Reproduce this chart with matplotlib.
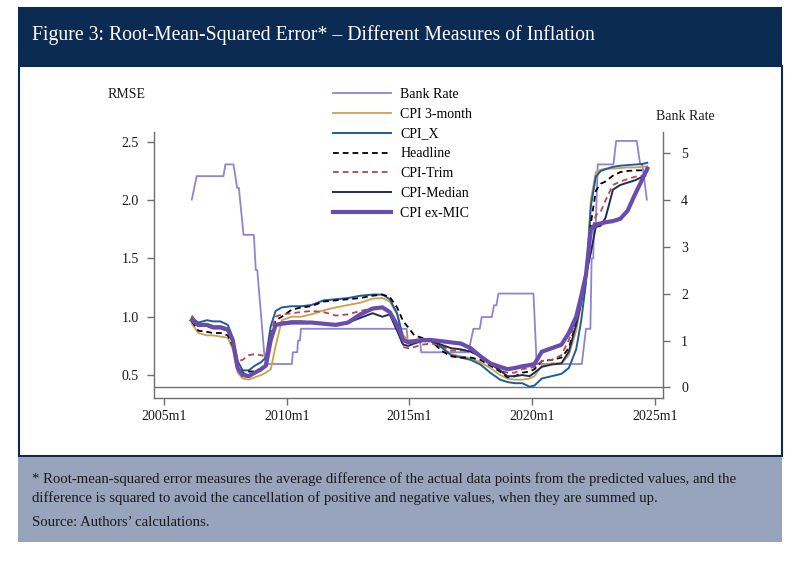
import matplotlib
matplotlib.use('Agg')
import matplotlib.pyplot as plt
from matplotlib.patches import Rectangle

plt.rcParams['font.family'] = ['Liberation Serif', 'DejaVu Serif']

# ---- data ----
dates = [2006.13, 2006.4, 2006.75, 2007.0, 2007.3, 2007.6, 2007.8, 2008.0, 2008.2, 2008.45,
         2008.7, 2008.95, 2009.15, 2009.35, 2009.55, 2009.8, 2010.2, 2010.6, 2011.0, 2011.5,
         2012.0, 2012.5, 2013.0, 2013.5, 2013.9, 2014.2, 2014.5, 2014.75, 2014.95, 2015.2,
         2015.5, 2015.9, 2016.3, 2016.7, 2017.1, 2017.5, 2017.9, 2018.3, 2018.7, 2019.0,
         2019.3, 2019.6, 2019.9, 2020.1, 2020.4, 2020.8, 2021.2, 2021.5, 2021.8, 2022.0,
         2022.2, 2022.4, 2022.6, 2022.8, 2023.0, 2023.3, 2023.6, 2023.9, 2024.2, 2024.5, 2024.7]

cpi_x = [0.99, 0.95, 0.97, 0.96, 0.96, 0.93, 0.82, 0.62, 0.54, 0.54,
         0.58, 0.61, 0.65, 0.92, 1.05, 1.08, 1.09, 1.09, 1.10, 1.14,
         1.15, 1.16, 1.18, 1.19, 1.19, 1.15, 1.03, 0.81, 0.79, 0.79,
         0.80, 0.79, 0.74, 0.67, 0.65, 0.63, 0.59, 0.52, 0.46, 0.44,
         0.43, 0.43, 0.40, 0.41, 0.47, 0.49, 0.51, 0.56, 0.72, 0.96,
         1.29, 1.95, 2.20, 2.25, 2.265, 2.285, 2.295, 2.30, 2.305, 2.31, 2.32]

cpi_3m = [0.94, 0.86, 0.84, 0.84, 0.83, 0.82, 0.72, 0.52, 0.47, 0.46,
          0.48, 0.50, 0.52, 0.55, 0.75, 0.97, 1.00, 1.00, 1.02, 1.055,
          1.08, 1.10, 1.12, 1.155, 1.16, 1.13, 1.02, 0.84, 0.80, 0.80,
          0.81, 0.79, 0.74, 0.68, 0.66, 0.645, 0.61, 0.56, 0.50, 0.47,
          0.46, 0.46, 0.47, 0.49, 0.58, 0.60, 0.60, 0.67, 0.88, 1.10,
          1.35, 2.00, 2.24, 2.26, 2.27, 2.27, 2.275, 2.28, 2.28, 2.285, 2.29]

headline = [0.96, 0.88, 0.87, 0.86, 0.86, 0.84, 0.75, 0.58, 0.52, 0.53,
            0.53, 0.55, 0.60, 0.85, 0.97, 1.00, 1.06, 1.08, 1.09, 1.13,
            1.14, 1.15, 1.16, 1.18, 1.19, 1.17, 1.08, 0.96, 0.91, 0.84,
            0.82, 0.79, 0.71, 0.66, 0.65, 0.65, 0.63, 0.58, 0.53, 0.48,
            0.49, 0.52, 0.53, 0.55, 0.62, 0.63, 0.65, 0.73, 0.95, 1.15,
            1.40, 1.80, 2.08, 2.14, 2.16, 2.21, 2.24, 2.25, 2.255, 2.255, 2.25]

cpi_trim = [1.01, 0.93, 0.93, 0.92, 0.91, 0.90, 0.80, 0.62, 0.63, 0.67,
            0.68, 0.67, 0.66, 0.85, 1.00, 1.02, 1.03, 1.04, 1.05, 1.04,
            1.01, 1.02, 1.05, 1.07, 1.08, 1.05, 0.91, 0.74, 0.73, 0.74,
            0.76, 0.77, 0.75, 0.71, 0.71, 0.71, 0.66, 0.60, 0.54, 0.52,
            0.52, 0.55, 0.56, 0.57, 0.62, 0.63, 0.67, 0.80, 0.98, 1.17,
            1.38, 1.70, 1.87, 1.90, 2.00, 2.13, 2.16, 2.18, 2.20, 2.21, 2.21]

cpi_median = [0.96, 0.92, 0.92, 0.90, 0.90, 0.88, 0.78, 0.56, 0.51, 0.50,
              0.52, 0.54, 0.58, 0.82, 0.93, 0.95, 0.96, 0.96, 0.95, 0.94,
              0.93, 0.95, 0.99, 1.03, 1.00, 1.02, 0.88, 0.76, 0.75, 0.77,
              0.79, 0.79, 0.76, 0.73, 0.72, 0.70, 0.66, 0.60, 0.54, 0.49,
              0.49, 0.50, 0.49, 0.52, 0.57, 0.59, 0.60, 0.70, 0.93, 1.12,
              1.36, 1.55, 1.77, 1.78, 1.85, 2.09, 2.13, 2.15, 2.17, 2.20, 2.25]

cpi_exmic = [0.97, 0.93, 0.93, 0.91, 0.91, 0.89, 0.80, 0.56, 0.50, 0.49,
             0.52, 0.55, 0.58, 0.80, 0.93, 0.94, 0.95, 0.95, 0.95, 0.94,
             0.93, 0.95, 1.02, 1.07, 1.08, 1.04, 0.93, 0.80, 0.78, 0.79,
             0.80, 0.80, 0.79, 0.78, 0.77, 0.73, 0.66, 0.60, 0.57, 0.55,
             0.56, 0.575, 0.585, 0.595, 0.70, 0.73, 0.76, 0.86, 1.00, 1.17,
             1.36, 1.75, 1.79, 1.80, 1.81, 1.82, 1.84, 1.91, 2.05, 2.18, 2.27]

bank_dates = [2006.13, 2006.33, 2007.42, 2007.50, 2007.83, 2007.98, 2008.05, 2008.24,
              2008.66, 2008.74, 2008.80, 2009.00, 2009.08, 2009.15, 2010.21, 2010.25,
              2010.43, 2010.46, 2010.54, 2010.58, 2014.89, 2014.93, 2015.44, 2015.48,
              2017.41, 2017.61, 2017.87, 2017.95, 2018.36, 2018.45, 2018.55, 2018.63,
              2020.06, 2020.19, 2022.03, 2022.20, 2022.38, 2022.43, 2022.50, 2022.52,
              2022.60, 2022.68, 2023.32, 2023.43, 2024.27, 2024.41, 2024.50, 2024.68]
bank_rate = [4.0, 4.5, 4.5, 4.75, 4.75, 4.25, 4.25, 3.25,
             3.25, 2.5, 2.5, 1.25, 0.75, 0.5, 0.5, 0.75,
             0.75, 1.0, 1.0, 1.25, 1.25, 1.0, 1.0, 0.75,
             0.75, 1.25, 1.25, 1.5, 1.5, 1.75, 1.75, 2.0,
             2.0, 0.5, 0.5, 1.25, 1.25, 2.75, 2.75, 3.5,
             3.5, 4.75, 4.75, 5.25, 5.25, 4.75, 4.75, 4.0]

year_ticks = [2005, 2010, 2015, 2020, 2025]
rmse_ticks = [0.5, 1.0, 1.5, 2.0, 2.5]
bank_ticks = [0, 1, 2, 3, 4, 5]

title = "Figure 3: Root-Mean-Squared Error* \u2013 Different Measures of Inflation"
note1 = ("* Root-mean-squared error measures the average difference of the actual data points "
         "from the predicted values, and the")
note2 = ("difference is squared to avoid the cancellation of positive and negative values, "
         "when they are summed up.")
source = "Source: Authors\u2019 calculations."

NAVY = '#0c2b52'
GREY = '#6e6e6e'

W, H = 800, 564
fig = plt.figure(figsize=(8, 5.64), dpi=100)


def fx(px):
    return px / W


def fy(py):
    return 1 - py / H


# panel background pieces
fig.add_artist(Rectangle((fx(18), fy(66)), fx(782) - fx(18), fy(7) - fy(66),
                         facecolor=NAVY, edgecolor='none', transform=fig.transFigure, zorder=0))
fig.add_artist(Rectangle((fx(18.5), fy(456)), fx(781.5) - fx(18.5), fy(66) - fy(456),
                         facecolor='white', edgecolor=NAVY, lw=1.5,
                         transform=fig.transFigure, zorder=0))
fig.add_artist(Rectangle((fx(18), fy(542)), fx(782) - fx(18), fy(457) - fy(542),
                         facecolor='#97a4bb', edgecolor='none', transform=fig.transFigure, zorder=0))

fig.text(fx(32), fy(35), title, color='white', fontsize=14.2, ha='left', va='center')
fig.text(fx(32), fy(479), note1, color='#1a1a1a', fontsize=10.6, ha='left', va='center')
fig.text(fx(32), fy(498), note2, color='#1a1a1a', fontsize=10.6, ha='left', va='center')
fig.text(fx(32), fy(522), source, color='#1a1a1a', fontsize=10.6, ha='left', va='center')

# axes
ax = fig.add_axes([fx(154), fy(398), fx(663) - fx(154), fy(132) - fy(398)])
ax2 = ax.twinx()
ax.set_zorder(ax2.get_zorder() + 1)
ax.patch.set_visible(False)

ax.set_xlim(2004.59, 2025.34)
ax.set_ylim(0.303, 2.584)
ax2.set_ylim(-0.224, 5.44)

ax2.axhline(0, color=GREY, lw=1)
bank_line, = ax2.plot(bank_dates, bank_rate, color='#8f84d0', lw=1.3)

l_3m, = ax.plot(dates, cpi_3m, color='#c9a24d', lw=1.3)
l_x, = ax.plot(dates, cpi_x, color='#1f5c99', lw=1.4)
l_head, = ax.plot(dates, headline, color='black', lw=1.3, dashes=(3.2, 2.2))
l_trim, = ax.plot(dates, cpi_trim, color='#b5474b', lw=1.3, dashes=(3.2, 2.2))
l_med, = ax.plot(dates, cpi_median, color='#1c2d5a', lw=1.4)
l_mic, = ax.plot(dates, cpi_exmic, color='#6a4caf', lw=3)

for a in (ax, ax2):
    a.spines['top'].set_visible(False)
ax.spines['right'].set_visible(False)
ax2.spines['left'].set_visible(False)
ax2.spines['bottom'].set_visible(False)
for s in ('left', 'bottom'):
    ax.spines[s].set_color(GREY)
    ax.spines[s].set_linewidth(1)
ax2.spines['right'].set_color(GREY)
ax2.spines['right'].set_linewidth(1)

ax.set_xticks(year_ticks)
ax.set_xticklabels([f'{y}m1' for y in year_ticks])
ax.set_yticks(rmse_ticks)
ax.set_yticklabels([f'{v:.1f}' for v in rmse_ticks])
ax2.set_yticks(bank_ticks)
ax2.set_yticklabels([str(v) for v in bank_ticks])

ax.tick_params(axis='x', direction='out', length=5, width=1, color=GREY, pad=4,
               labelsize=10, labelcolor='#1a1a1a')
ax.tick_params(axis='y', direction='out', length=5, width=1, color=GREY, pad=6,
               labelsize=10, labelcolor='#1a1a1a')
ax2.tick_params(axis='y', direction='out', length=5, width=1, color=GREY, pad=8,
                labelsize=10, labelcolor='#1a1a1a')

fig.text(fx(108), fy(95), 'RMSE', fontsize=10, color='#1a1a1a', ha='left', va='center')
fig.text(fx(656), fy(116), 'Bank Rate', fontsize=10, color='#1a1a1a', ha='left', va='center')

handles = [bank_line, l_3m, l_x, l_head, l_trim, l_med, l_mic]
labels = ['Bank Rate', 'CPI 3-month', 'CPI_X', 'Headline', 'CPI-Trim', 'CPI-Median', 'CPI ex-MIC']
fig.legend(handles, labels, loc='upper left', bbox_to_anchor=(fx(333), fy(88)),
           frameon=False, fontsize=10, handlelength=4.2, handletextpad=0.65,
           labelspacing=0.49, borderpad=0, borderaxespad=0)

fig.savefig('out.png', dpi=100)
